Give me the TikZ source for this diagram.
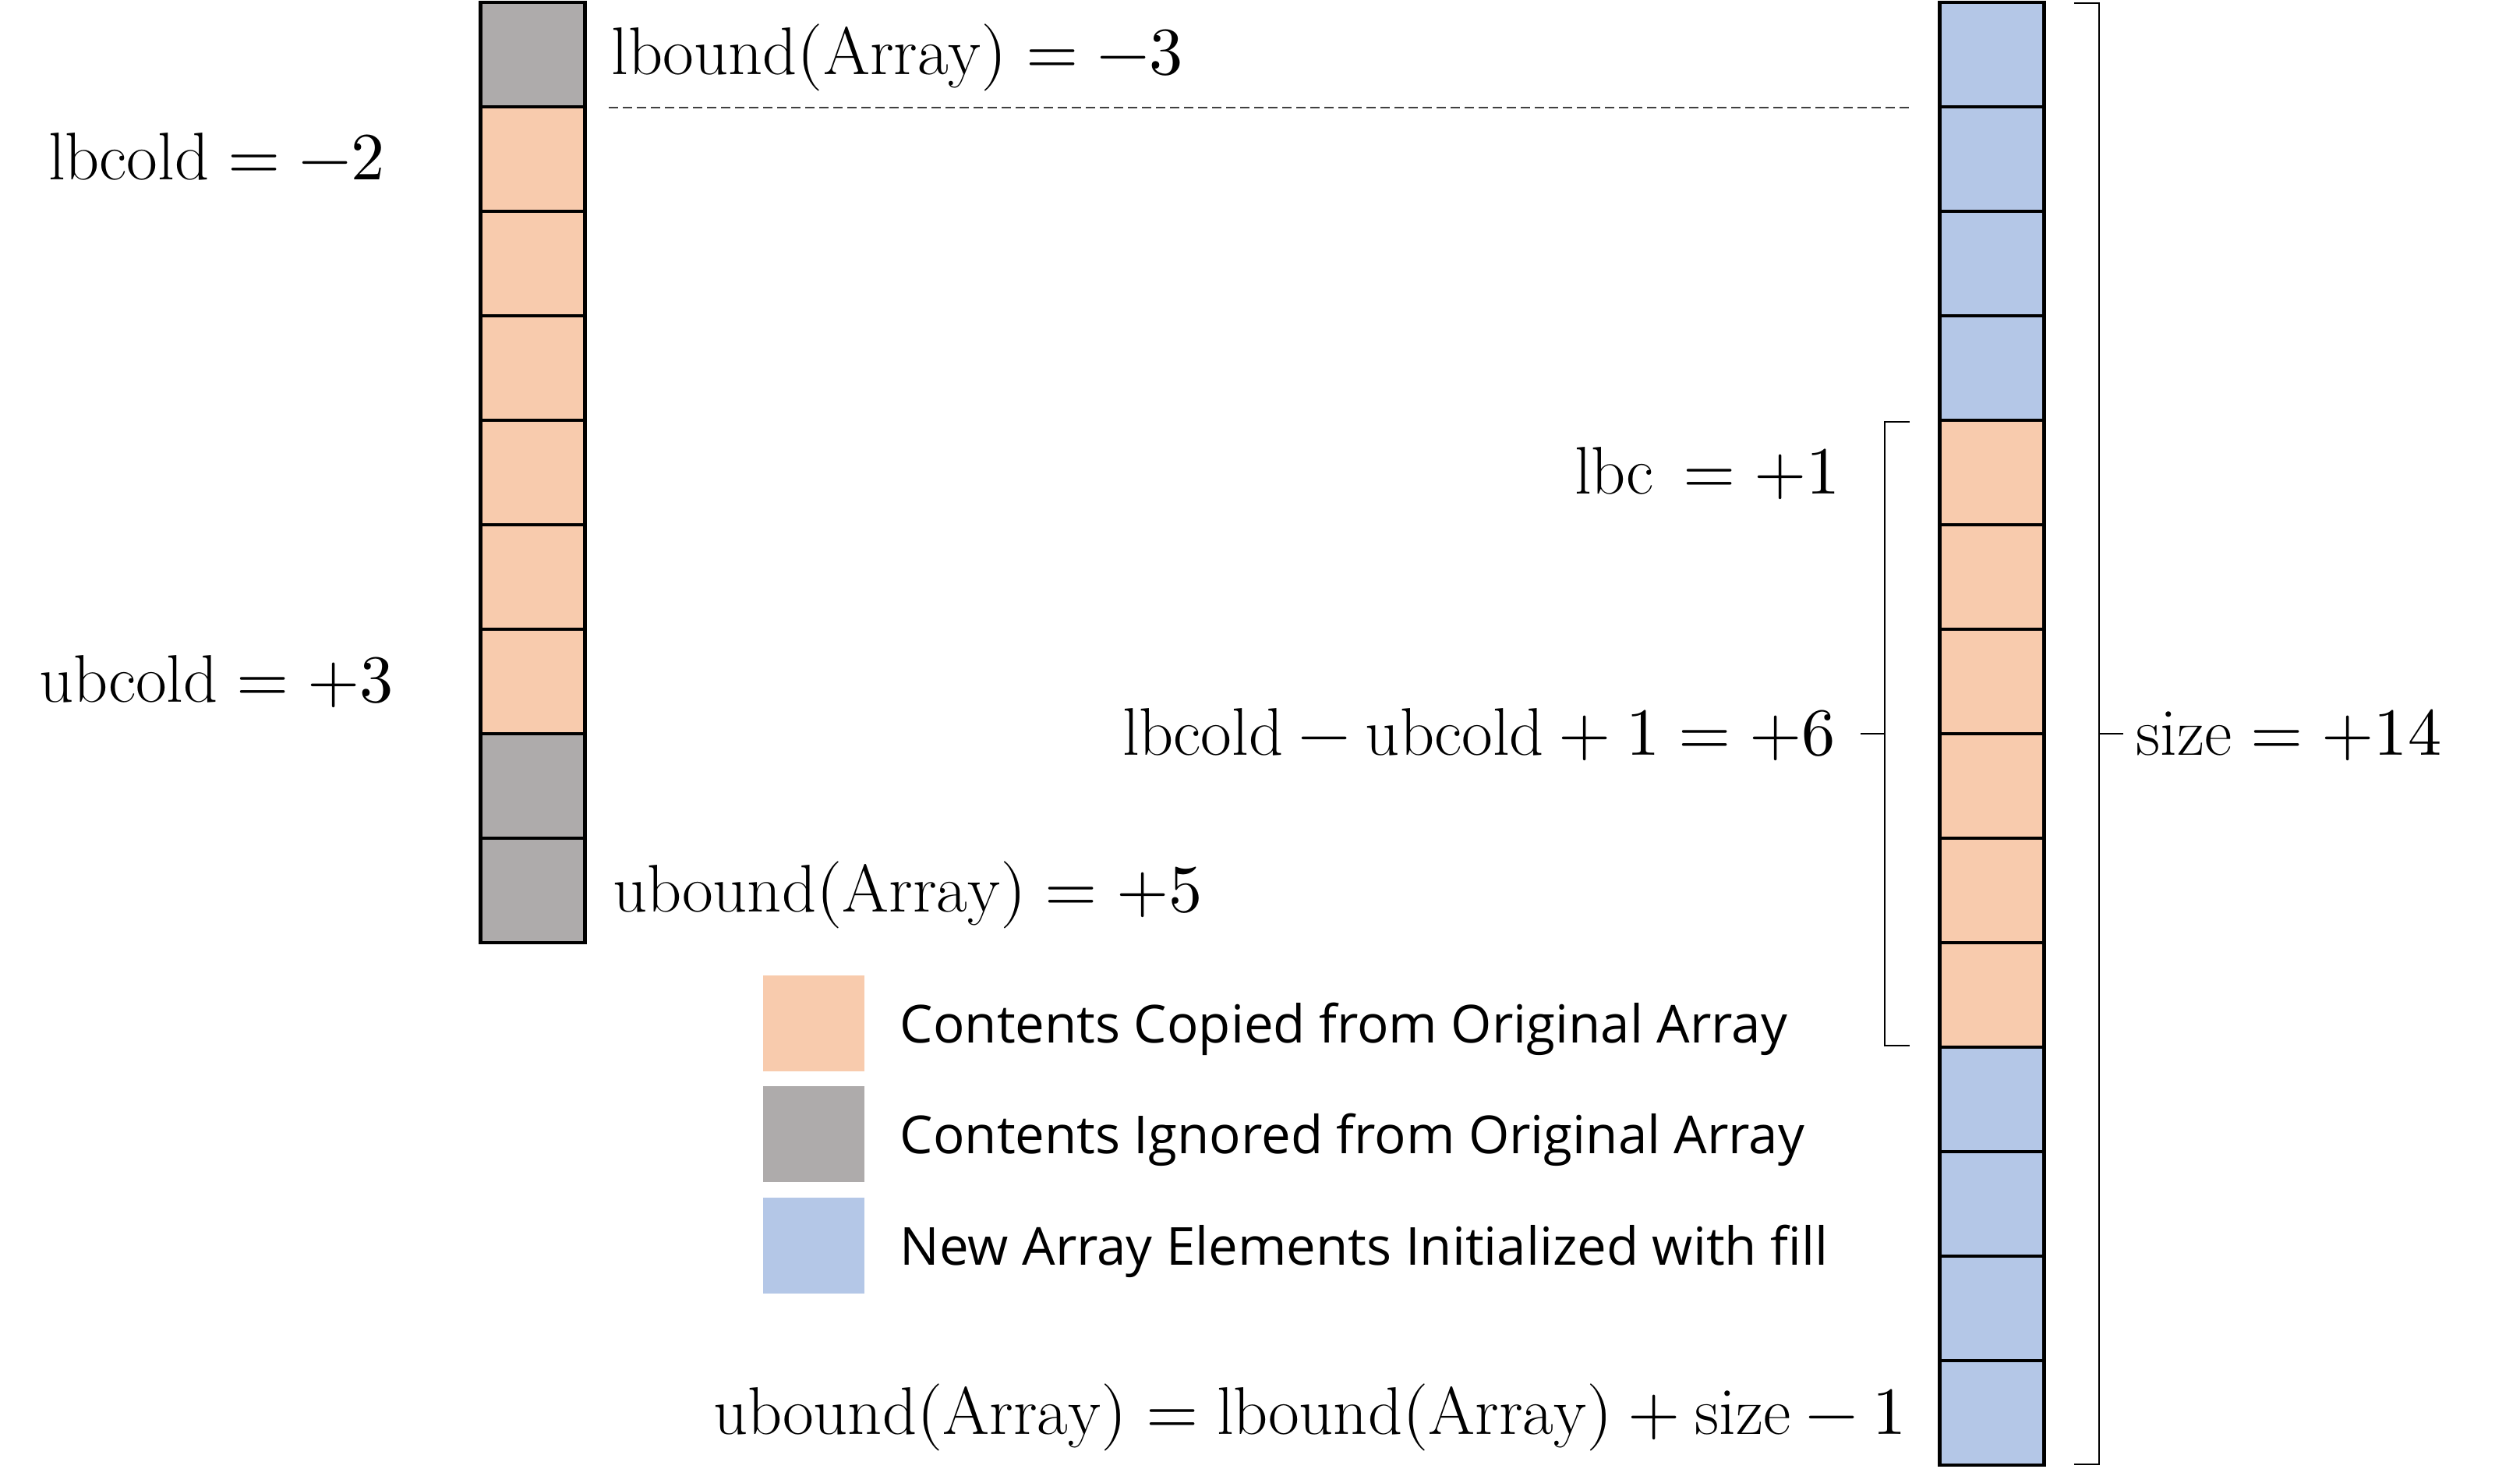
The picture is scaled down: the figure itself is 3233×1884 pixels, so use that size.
\documentclass[tikz,border=0pt]{standalone}
\usepackage{fontspec}
\usepackage{unicode-math}
\setmathfont{Latin Modern Math}
\newfontfamily\legendfont{Open Sans}
\definecolor{peach}{HTML}{F8CBAD}
\definecolor{grayc}{HTML}{AEABAB}
\definecolor{bluec}{HTML}{B4C7E7}
\newcommand{\tx}[1]{\mathrm{#1}}
\begin{document}
\begin{tikzpicture}[x=0.25pt,y=-0.25pt,
  cell/.style={draw=black, line width=1.1pt, minimum width=33.5pt, minimum height=33.5pt, inner sep=0pt, outer sep=0pt},
  lab/.style={inner sep=0pt, font=\fontsize{21.6pt}{26pt}\selectfont},
  legtext/.style={inner sep=0pt, anchor=base west, font=\legendfont\fontsize{16.8pt}{20pt}\selectfont},
  legbox/.style={minimum width=32.5pt, minimum height=30.75pt, inner sep=0pt, outer sep=0pt},
  brk/.style={line width=0.5pt, black},
  dashline/.style={line width=0.45pt, black!75, dash pattern=on 3pt off 1.5pt},
]
\useasboundingbox (0,0) rectangle (3233,1884);
% left (original) array
\foreach \i/\c in {0/grayc,1/peach,2/peach,3/peach,4/peach,5/peach,6/peach,7/grayc,8/grayc}
  \node[cell, fill=\c] (L\i) at (683.5,{70+134*\i}) {};
% right (new) array
\foreach \i/\c in {0/bluec,1/bluec,2/bluec,3/bluec,4/peach,5/peach,6/peach,7/peach,8/peach,9/peach,10/bluec,11/bluec,12/bluec,13/bluec}
  \node[cell, fill=\c] (R\i) at (2555.5,{70+134*\i}) {};
% dashed line
\coordinate (d1) at (781,138);
\coordinate (d2) at (2450,138);
\draw[dashline] (d1) -- (d2);
% inner bracket
\coordinate (ib1) at (2450,541);
\coordinate (ib2) at (2418,541);
\coordinate (ib3) at (2418,1341);
\coordinate (ib4) at (2450,1341);
\coordinate (ibm) at (2418,941);
\coordinate (ibt) at (2387,941);
\draw[brk] (ib1) -- (ib2) -- (ib3) -- (ib4);
\draw[brk] (ibm) -- (ibt);
% outer bracket
\coordinate (ob1) at (2661,4);
\coordinate (ob2) at (2693,4);
\coordinate (ob3) at (2693,1878);
\coordinate (ob4) at (2661,1878);
\coordinate (obm) at (2693,941);
\coordinate (obt) at (2724,941);
\draw[brk] (ob1) -- (ob2) -- (ob3) -- (ob4);
\draw[brk] (obm) -- (obt);
% labels
\node[lab, anchor=base west] (t1) at (784,95) {$\tx{lbound}(\tx{Array}) = -3$};
\node[lab, anchor=base] (t2) at (278,230) {$\tx{lbcold} = -2$};
\node[lab, anchor=base] (t3) at (278,900) {$\tx{ubcold} = +3$};
\node[lab, anchor=base west] (t4) at (786,1169) {$\tx{ubound}(\tx{Array}) = +5$};
\node[lab, anchor=base east] (t5) at (2362,633) {$\tx{lbc}\, = +1$};
\node[lab, anchor=base east] (t6) at (2356,968) {$\tx{lbcold} - \tx{ubcold} + 1 = +6$};
\node[lab, anchor=base west] (t7) at (2740,968) {$\tx{size} = +14$};
\node[lab, anchor=base east] (t8) at (2447,1839) {$\tx{ubound}(\tx{Array}) = \tx{lbound}(\tx{Array}) + \tx{size} - 1$};
% legend
\node[legbox, fill=peach] (k1) at (1044,1312) {};
\node[legbox, fill=grayc] (k2) at (1044,1454) {};
\node[legbox, fill=bluec] (k3) at (1044,1597) {};
\node[legtext] (k1t) at (1154,1337) {Contents Copied from Original Array};
\node[legtext] (k2t) at (1154,1479) {Contents Ignored from Original Array};
\node[legtext] (k3t) at (1154,1622) {New Array Elements Initialized with fill};
\end{tikzpicture}
\end{document}
